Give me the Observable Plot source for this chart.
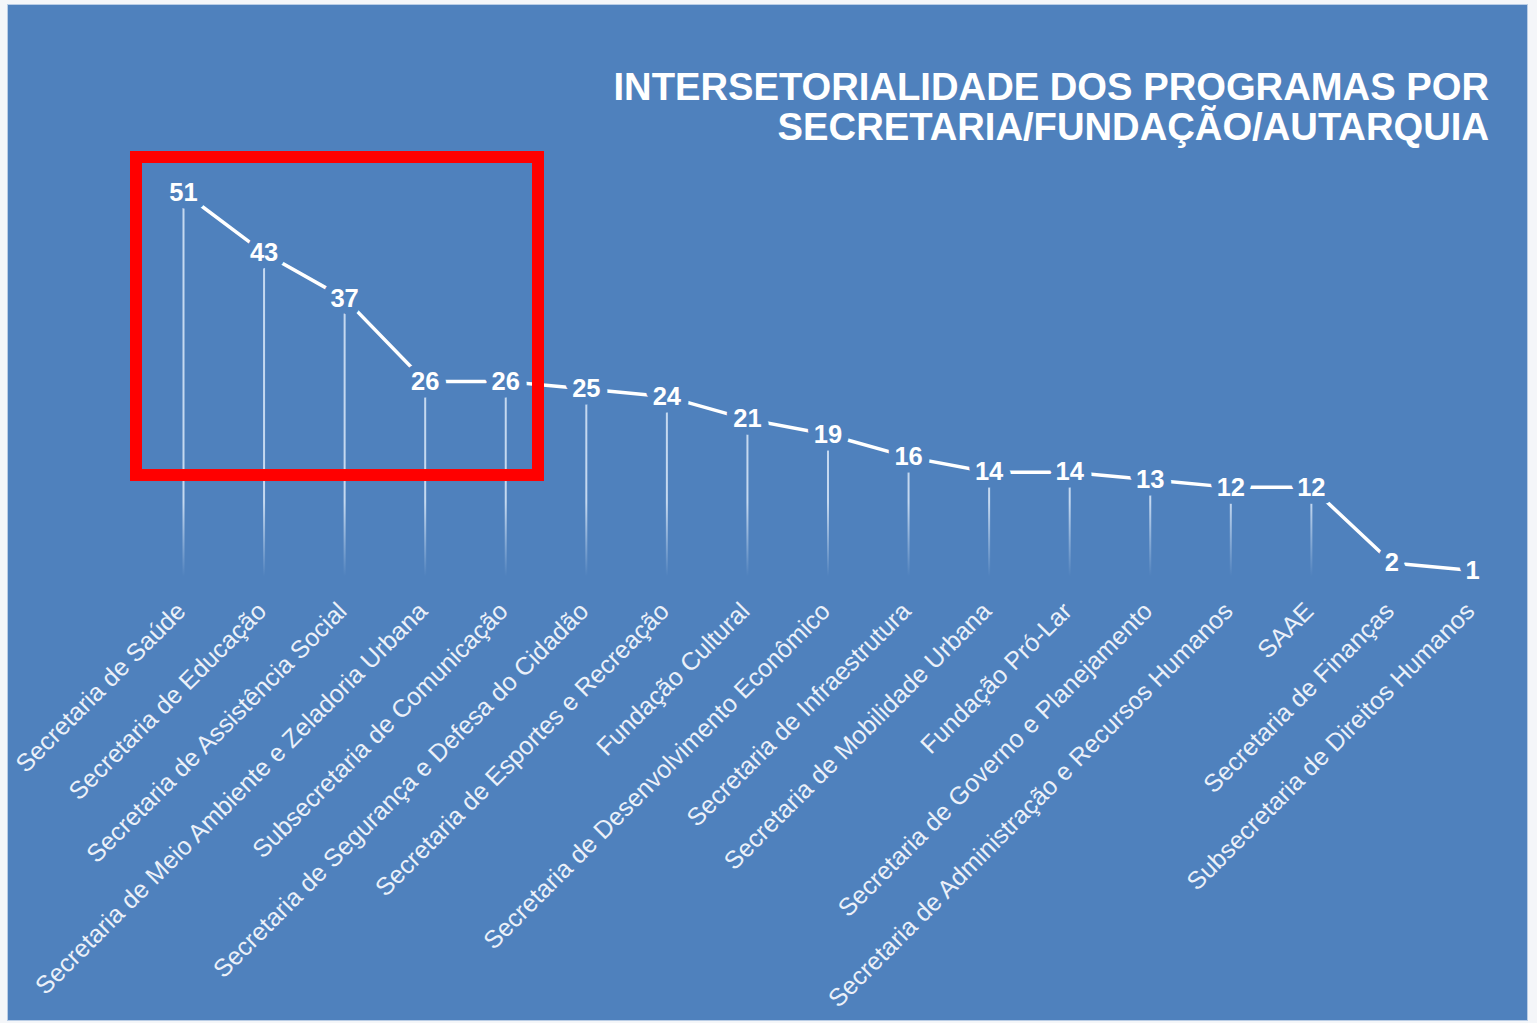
<!DOCTYPE html>
<html>
<head>
<meta charset="utf-8">
<script src="https://cdn.jsdelivr.net/npm/d3@7"></script>
<script src="https://cdn.jsdelivr.net/npm/@observablehq/plot@0.6"></script>
<style>
  html, body { margin: 0; padding: 0; background: #f4f6f9; }
  body { width: 1537px; height: 1023px; position: relative; overflow: hidden; font-family: "Liberation Sans", Arial, sans-serif; }
  #frame {
    position: absolute; left: 7px; top: 4px; width: 1519px; height: 1015px;
    background: #4f81bd; border: 1px solid #b9cde6;
  }
  #title {
    box-sizing: border-box; height: 142px; padding: 62px 38px 0 0;
    text-align: right; color: #ffffff; font-weight: bold; font-size: 38.2px; line-height: 40px;
  }
  #chart svg { display: block; overflow: visible; }
</style>
</head>
<body>
<div id="frame">
  <div id="title">INTERSETORIALIDADE DOS PROGRAMAS POR<br>SECRETARIA/FUNDAÇÃO/AUTARQUIA</div>
  <div id="chart"></div>
</div>
<script>
const categories = [
  "Secretaria de Saúde",
  "Secretaria de Educação",
  "Secretaria de Assistência Social",
  "Secretaria de Meio Ambiente e Zeladoria Urbana",
  "Subsecretaria de Comunicação",
  "Secretaria de Segurança e Defesa do Cidadão",
  "Secretaria de Esportes e Recreação",
  "Fundação Cultural",
  "Secretaria de Desenvolvimento Econômico",
  "Secretaria de Infraestrutura",
  "Secretaria de Mobilidade Urbana",
  "Fundação Pró-Lar",
  "Secretaria de Governo e Planejamento",
  "Secretaria de Administração e Recursos Humanos",
  "SAAE",
  "Secretaria de Finanças",
  "Subsecretaria de Direitos Humanos"
];
const values = [51, 43, 37, 26, 26, 25, 24, 21, 19, 16, 14, 14, 13, 12, 12, 2, 1];
const highlighted = [0, 4]; // first..last highlighted category index

const BG = "#4f81bd";
const data = categories.map((name, i) => ({i, name, value: values[i]}));
const hl = data.filter(d => d.i >= highlighted[0] && d.i <= highlighted[1]);
const hlBox = [{x1: highlighted[0], x2: highlighted[1], y1: d3.min(hl, d => d.value), y2: d3.max(hl, d => d.value)}];

const chart = Plot.plot({
  width: 1519,
  height: 873,
  marginLeft: 175,
  marginRight: 55,
  marginTop: 45,
  marginBottom: 442.4,
  style: {background: "transparent", fontFamily: "'Liberation Sans', Arial, sans-serif", overflow: "visible"},
  x: {type: "linear", domain: [0, categories.length - 1]},
  y: {domain: [0, 51], axis: null},
  marks: [
    Plot.ruleX(data, {x: "i", y1: "value", y2: 0, stroke: "url(#fadeRule)", strokeWidth: 2}),
    Plot.line(data, {x: "i", y: "value", stroke: "#ffffff", strokeWidth: 3.5}),
    Plot.text(data, {x: "i", y: "value", text: d => String(d.value), fill: "#ffffff",
      stroke: BG, strokeWidth: 15, fontSize: 25.5, fontWeight: "bold"}),
    Plot.axisX({ticks: d3.range(categories.length), tickFormat: i => categories[i],
      tickRotate: -45, tickSize: 0, tickPadding: 29, dx: -2, fontSize: 25, fill: "#eaf0f9", label: null}),
    Plot.rect(hlBox, {x1: "x1", x2: "x2", y1: "y1", y2: "y2", fill: "none", stroke: "#ff0000", strokeWidth: 12,
      insetLeft: -47, insetRight: -32.75, insetTop: -35, insetBottom: -94})
  ]
});
document.getElementById("chart").appendChild(chart);

// gradient fade of the drop lines, positioned with the y scale
const ys = chart.scale("y");
const yScale = d3.scaleLinear(ys.domain, ys.range);
const svg = d3.select(chart);
const defs = svg.insert("defs", ":first-child");
const g = defs.append("linearGradient").attr("id", "fadeRule")
  .attr("gradientUnits", "userSpaceOnUse")
  .attr("x1", 0).attr("x2", 0)
  .attr("y1", yScale(10)).attr("y2", yScale(0.2));
g.append("stop").attr("offset", 0).attr("stop-color", "#d2e2f5").attr("stop-opacity", 0.9);
g.append("stop").attr("offset", 1).attr("stop-color", "#d2e2f5").attr("stop-opacity", 0);
</script>
</body>
</html>
